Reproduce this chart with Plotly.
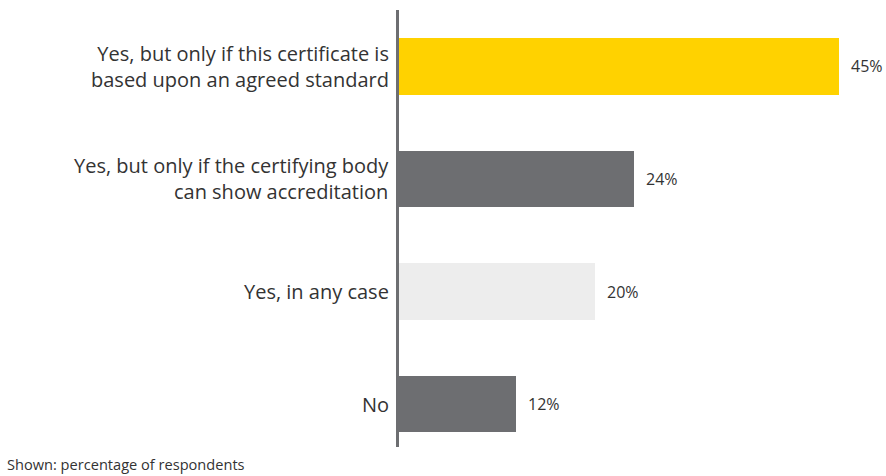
import plotly.graph_objects as go

# Survey answers, top to bottom
categories = [
    "Yes, but only if this certificate is<br>based upon an agreed standard",
    "Yes, but only if the certifying body<br>can show accreditation",
    "Yes, in any case",
    "No",
]
values = [45, 24, 20, 12]
value_labels = ["45%", "24%", "20%", "12%"]
bar_colors = ["#FFD200", "#6D6E71", "#EDEDED", "#6D6E71"]
footnote = "Shown: percentage of respondents"

FONT = "Open Sans"
positions = list(range(len(categories)))

fig = go.Figure(
    go.Bar(
        x=values,
        y=positions,
        orientation="h",
        width=0.505,
        marker=dict(color=bar_colors, line=dict(width=0)),
        hoverinfo="skip",
    )
)

# category labels to the left of the axis line
for pos, cat in zip(positions, categories):
    fig.add_annotation(
        x=0, y=pos, xref="x", yref="y",
        text=cat, showarrow=False,
        xanchor="right", yanchor="middle", align="right",
        xshift=-8,
        font=dict(family=FONT, size=20, color="#333333"),
    )

# value labels at the end of each bar
for pos, val, lab in zip(positions, values, value_labels):
    fig.add_annotation(
        x=val, y=pos, xref="x", yref="y",
        text=lab, showarrow=False,
        xanchor="left", yanchor="middle",
        xshift=10,
        font=dict(family=FONT, size=16, color="#333333"),
    )

fig.add_annotation(
    x=0, y=0, xref="paper", yref="paper",
    text=footnote, showarrow=False,
    xanchor="left", yanchor="bottom",
    xshift=-394, yshift=-29,
    font=dict(family=FONT, size=14.6, color="#333333"),
)

fig.update_layout(
    width=886, height=476,
    margin=dict(l=399, r=0, t=10, b=29),
    paper_bgcolor="white", plot_bgcolor="white",
    showlegend=False,
    bargap=0,
    xaxis=dict(range=[0, 49.8], visible=False, fixedrange=True),
    yaxis=dict(
        range=[3.382, -0.502], fixedrange=True,
        showline=True, linewidth=3, linecolor="#6D6E71",
        showgrid=False, zeroline=False, showticklabels=False, ticks="",
    ),
)

fig.write_html("out.html")
